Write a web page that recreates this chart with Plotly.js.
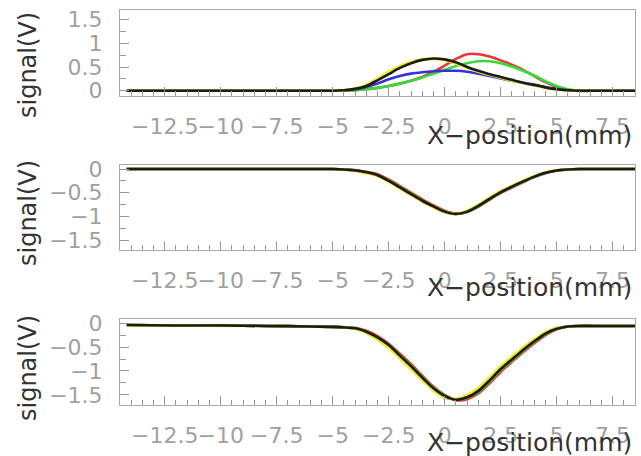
<!DOCTYPE html>
<html>
<head>
<meta charset="utf-8">
<script src="https://cdn.plot.ly/plotly-3.0.1.min.js"></script>
<style>html,body{margin:0;padding:0;background:#fff;}#chart{width:641px;height:456px;}</style>
</head>
<body>
<div id="chart"></div>
<script>
// X positions (mm)
const xPos = [-14.2,-12,-10,-8,-6,-5,-4.5,-4,-3.5,-3,-2.5,-2,-1.5,-1,-0.5,0,0.5,1,1.5,2,2.5,3,3.5,4,4.5,5,5.5,6,7,8.5];

// Top panel signals (V)
const topRed    = [0,0,0,0,0,0, 0,0.01,0.03,0.06,0.10,0.15,0.21,0.29,0.40,0.53,0.67,0.77,0.77,0.72,0.64,0.55,0.44,0.31,0.18,0.08,0.02,0,0,0];
const topGreen  = [0,0,0,0,0,0, 0,0.01,0.03,0.06,0.10,0.15,0.21,0.28,0.36,0.44,0.52,0.58,0.62,0.62,0.58,0.51,0.42,0.32,0.20,0.10,0.03,0,0,0];
const topBlue   = [0,0,0,0,0,0, 0.01,0.03,0.08,0.15,0.24,0.31,0.36,0.39,0.41,0.42,0.42,0.40,0.36,0.31,0.26,0.21,0.17,0.13,0.08,0.04,0.01,0,0,0];
const topYellow = [0,0,0,0,0,0, 0.01,0.05,0.13,0.26,0.40,0.52,0.61,0.66,0.67,0.64,0.57,0.48,0.40,0.33,0.27,0.21,0.16,0.11,0.06,0.02,0.01,0,0,0];
const topBlack  = [0,0,0,0,0,0, 0.01,0.04,0.10,0.22,0.35,0.48,0.58,0.65,0.68,0.66,0.60,0.50,0.42,0.35,0.29,0.23,0.17,0.12,0.07,0.03,0.01,0,0,0];

// Middle panel signals (V)
const midRed    = [0,0,0,0,0,0, -0.01,-0.02,-0.06,-0.11,-0.22,-0.36,-0.50,-0.64,-0.77,-0.88,-0.94,-0.91,-0.80,-0.65,-0.51,-0.39,-0.28,-0.17,-0.09,-0.03,-0.01,0,0,0];
const midGreen  = [0,0,0,0,0,0, -0.01,-0.03,-0.07,-0.13,-0.24,-0.38,-0.52,-0.66,-0.79,-0.90,-0.95,-0.91,-0.79,-0.64,-0.50,-0.38,-0.27,-0.17,-0.08,-0.03,-0.01,0,0,0];
const midBlue   = [0,0,0,0,0,0, -0.01,-0.03,-0.07,-0.13,-0.25,-0.39,-0.54,-0.68,-0.80,-0.91,-0.95,-0.90,-0.78,-0.63,-0.49,-0.37,-0.26,-0.16,-0.08,-0.03,-0.01,0,0,0];
const midYellow = [0,0,0,0,0,0, -0.01,-0.04,-0.09,-0.15,-0.27,-0.41,-0.55,-0.69,-0.81,-0.91,-0.95,-0.88,-0.75,-0.60,-0.46,-0.35,-0.24,-0.15,-0.07,-0.02,-0.01,0,0,0];
const midBlack  = [0,0,0,0,0,0, -0.01,-0.03,-0.07,-0.13,-0.25,-0.39,-0.53,-0.67,-0.79,-0.90,-0.95,-0.90,-0.78,-0.63,-0.49,-0.37,-0.26,-0.16,-0.08,-0.03,-0.01,0,0,0];

// Bottom panel signals (V)
const botRed    = [-0.04,-0.05,-0.05,-0.06,-0.07,-0.08, -0.09,-0.10,-0.16,-0.27,-0.43,-0.64,-0.86,-1.10,-1.33,-1.50,-1.61,-1.59,-1.47,-1.26,-1.02,-0.81,-0.61,-0.42,-0.25,-0.13,-0.07,-0.06,-0.06,-0.06];
const botGreen  = [-0.04,-0.05,-0.05,-0.06,-0.07,-0.08, -0.09,-0.11,-0.18,-0.30,-0.46,-0.67,-0.89,-1.13,-1.35,-1.51,-1.60,-1.56,-1.44,-1.22,-0.98,-0.78,-0.58,-0.39,-0.23,-0.12,-0.07,-0.06,-0.06,-0.06];
const botBlue   = [-0.04,-0.05,-0.05,-0.06,-0.07,-0.08, -0.09,-0.11,-0.19,-0.31,-0.48,-0.70,-0.93,-1.17,-1.39,-1.55,-1.59,-1.53,-1.40,-1.18,-0.95,-0.75,-0.55,-0.37,-0.21,-0.11,-0.07,-0.06,-0.06,-0.06];
const botYellow = [-0.05,-0.05,-0.06,-0.06,-0.07,-0.08, -0.09,-0.12,-0.21,-0.35,-0.52,-0.74,-0.97,-1.20,-1.41,-1.55,-1.58,-1.50,-1.35,-1.13,-0.90,-0.70,-0.51,-0.34,-0.19,-0.10,-0.07,-0.06,-0.06,-0.06];
const botBlack  = [-0.04,-0.05,-0.05,-0.06,-0.07,-0.08, -0.09,-0.11,-0.18,-0.30,-0.46,-0.68,-0.90,-1.14,-1.36,-1.52,-1.60,-1.55,-1.42,-1.20,-0.96,-0.76,-0.56,-0.38,-0.22,-0.12,-0.07,-0.06,-0.06,-0.06];

const xTitle = 'X\u2212position(mm)';
const yTitle = 'signal(V)';

const colors = {red:'#ee3333', green:'#33dd33', blue:'#3333dd', yellow:'#eeee22', black:'#1c1c10'};

function tr(y, color, xa, ya) {
  return {x: xPos, y: y, xaxis: xa, yaxis: ya, type: 'scatter', mode: 'lines',
          line: {color: color, width: 2.6, shape: 'spline', smoothing: 0.8},
          hoverinfo: 'skip', showlegend: false};
}

const data = [
  tr(topRed, colors.red, 'x', 'y'), tr(topGreen, colors.green, 'x', 'y'), tr(topBlue, colors.blue, 'x', 'y'),
  tr(topYellow, colors.yellow, 'x', 'y'), tr(topBlack, colors.black, 'x', 'y'),
  tr(midRed, colors.red, 'x2', 'y2'), tr(midGreen, colors.green, 'x2', 'y2'), tr(midBlue, colors.blue, 'x2', 'y2'),
  tr(midYellow, colors.yellow, 'x2', 'y2'), tr(midBlack, colors.black, 'x2', 'y2'),
  tr(botRed, colors.red, 'x3', 'y3'), tr(botGreen, colors.green, 'x3', 'y3'), tr(botBlue, colors.blue, 'x3', 'y3'),
  tr(botYellow, colors.yellow, 'x3', 'y3'), tr(botBlack, colors.black, 'x3', 'y3')
];

const H = 456, W = 641;
const tickFont = {family: 'DejaVu Sans', size: 22, color: '#a0a0a0'};

function xaxis(anchor) {
  return {domain: [120/W, 635/W], range: [-14.5, 8.5], anchor: anchor,
    showline: true, mirror: true, linecolor: '#aaaaaa', linewidth: 1,
    ticks: 'inside', ticklen: 9, tickcolor: '#999', tickwidth: 1,
    tick0: 0, dtick: 2.5, tickangle: 0, tickfont: tickFont, ticklabelstandoff: 11,
    minor: {dtick: 0.5, ticks: 'inside', ticklen: 5, tickcolor: '#999', showgrid: false},
    showgrid: false, zeroline: false, fixedrange: true};
}
function yaxis(anchor, dom, range) {
  return {domain: dom, range: range, anchor: anchor,
    showline: true, mirror: true, linecolor: '#aaaaaa', linewidth: 1,
    ticks: 'inside', ticklen: 9, tickcolor: '#999', tickwidth: 1,
    tick0: 0, dtick: 0.5, tickfont: tickFont, ticklabelstandoff: 12,
    minor: {dtick: 0.25, ticks: 'inside', ticklen: 6, tickcolor: '#999', showgrid: false},
    showgrid: false, zeroline: false, fixedrange: true};
}

function ann(text, x, y, xanchor, angle) {
  return {text: text, xref: 'paper', yref: 'paper', x: x, y: y, xanchor: xanchor, yanchor: 'middle',
    textangle: angle, showarrow: false, font: {family: 'DejaVu Sans', size: angle ? 24 : 25, color: '#333'}};
}

const layout = {
  width: W, height: H, margin: {l: 0, r: 0, t: 0, b: 0},
  paper_bgcolor: '#fff', plot_bgcolor: '#fff', showlegend: false,
  xaxis: xaxis('y'), xaxis2: xaxis('y2'), xaxis3: xaxis('y3'),
  yaxis: yaxis('x', [1 - 95.5/H, 1 - 10/H], [-0.1, 1.7]),
  yaxis2: yaxis('x2', [1 - 250/H, 1 - 165/H], [-1.71, 0.085]),
  yaxis3: yaxis('x3', [1 - 405/H, 1 - 319/H], [-1.71, 0.085]),
  annotations: [
    ann(xTitle, 634/W, 1 - 135/H, 'right', 0),
    ann(xTitle, 634/W, 1 - 287/H, 'right', 0),
    ann(xTitle, 634/W, 1 - 442/H, 'right', 0),
    ann(yTitle, 28/W, 1 - 65/H, 'center', -90),
    ann(yTitle, 28/W, 1 - 213/H, 'center', -90),
    ann(yTitle, 28/W, 1 - 368/H, 'center', -90)
  ]
};

Plotly.newPlot('chart', data, layout, {staticPlot: true, displayModeBar: false});
</script>
</body>
</html>
